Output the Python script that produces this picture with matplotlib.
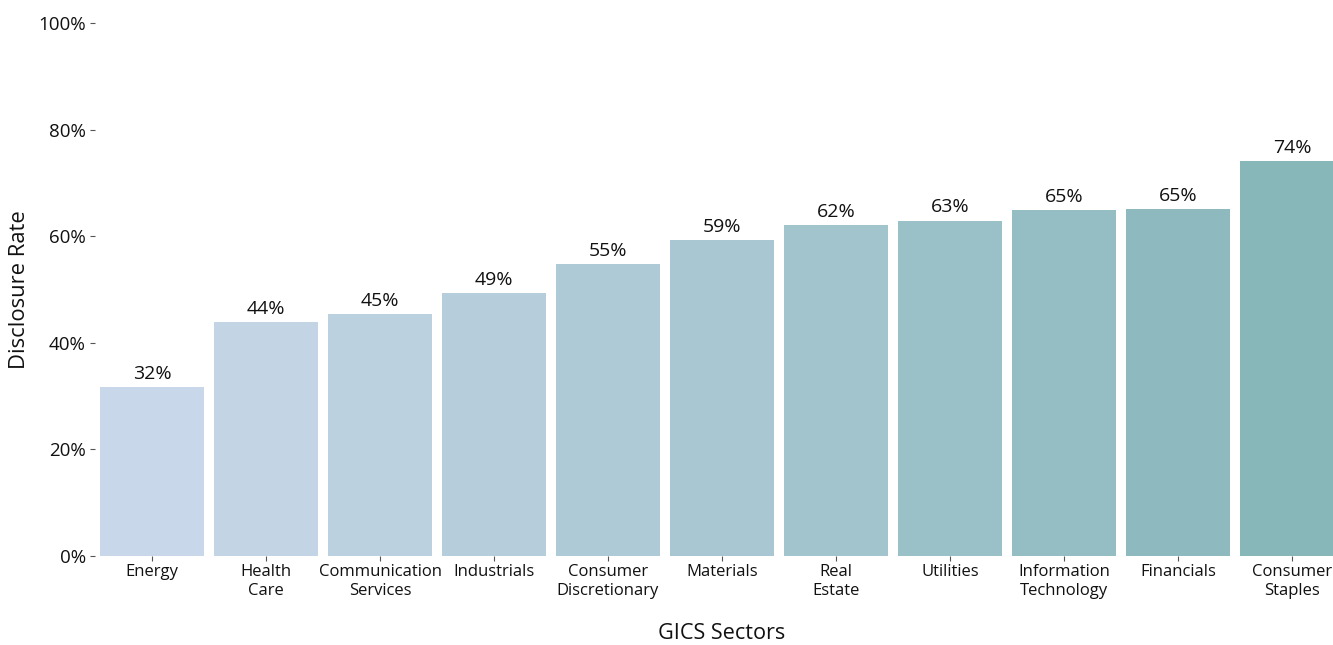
import numpy as np
import matplotlib.pyplot as plt
from matplotlib.colors import LinearSegmentedColormap

plt.rcParams['font.family'] = ['Open Sans', 'DejaVu Sans']

sectors = ["Energy", "Health\nCare", "Communication\nServices", "Industrials",
           "Consumer\nDiscretionary", "Materials", "Real\nEstate", "Utilities",
           "Information\nTechnology", "Financials", "Consumer\nStaples"]
rates = [31.7, 43.9, 45.4, 49.3, 54.8, 59.3, 62.1, 62.9, 64.9, 65.1, 74.1]
value_labels = ["32%", "44%", "45%", "49%", "55%", "59%", "62%", "63%", "65%", "65%", "74%"]

W, H = 1333, 645
fig = plt.figure(figsize=(W / 100, H / 100), dpi=100)
# panel runs a little past the right edge, so the last bar is cut off
left_px, right_px, top_px, bottom_px = 95, 1349, 23, 556
ax = fig.add_axes([left_px / W, 1 - bottom_px / H,
                   (right_px - left_px) / W, (bottom_px - top_px) / H])

cmap = LinearSegmentedColormap.from_list("blue_teal", ["#c9d7ea", "#88b7ba"])
x = np.arange(len(sectors))
colors = cmap(np.linspace(0, 1, len(sectors)))
bars = ax.bar(x, rates, width=0.91, color=colors, zorder=2)

for b, lab in zip(bars, value_labels):
    ax.text(b.get_x() + b.get_width() / 2, b.get_height() + 0.8, lab,
            ha='center', va='bottom', fontsize=14, color='#111111')

ax.set_xlim(-0.5, 10.5)
ax.set_ylim(0, 100)
ax.set_yticks([0, 20, 40, 60, 80, 100])
ax.set_yticklabels([f"{v}%" for v in [0, 20, 40, 60, 80, 100]], fontsize=13.5, color='#111111')
ax.set_xticks(x)
ax.set_xticklabels(sectors, fontsize=12, color='#111111', linespacing=1.3)
ax.tick_params(axis='both', length=3.5, width=0.8, color='#555555', pad=2)
ax.tick_params(axis='y', pad=3)

for s in ax.spines.values():
    s.set_visible(False)

ax.set_ylabel("Disclosure Rate", fontsize=15.8, color='#111111', labelpad=6)
ax.set_xlabel("GICS Sectors", fontsize=15.6, color='#111111', labelpad=17)

fig.savefig("out.png", dpi=100)
